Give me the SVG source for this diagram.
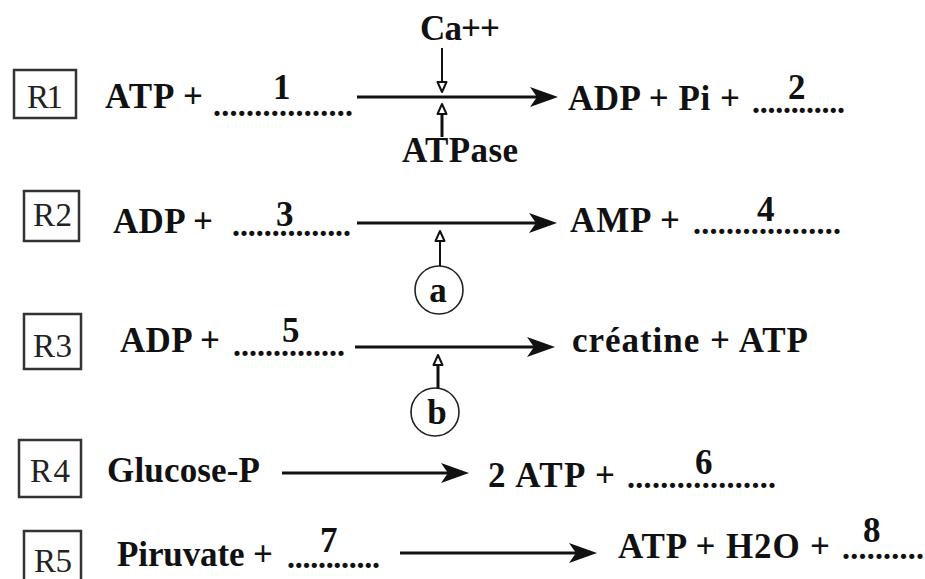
<svg xmlns="http://www.w3.org/2000/svg" width="925" height="579" viewBox="0 0 925 579">
<style>
.eq{font-family:"Liberation Serif","Times New Roman",serif;font-weight:bold;font-size:35px;fill:#111}
.lab{font-family:"Liberation Serif","Times New Roman",serif;font-size:33px;fill:#222}
.dots{font-family:"Liberation Serif","Times New Roman",serif;font-weight:bold;font-size:32px;fill:#111}
.box{fill:none;stroke:#333;stroke-width:2.5}
.main{stroke:#111;stroke-width:3;fill:none}
.mod{stroke:#111;fill:none}
.circ{fill:#fff;stroke:#222;stroke-width:1.6}
</style>
<defs>
<marker id="head" markerUnits="userSpaceOnUse" viewBox="0 0 28 20" markerWidth="28" markerHeight="20" refX="8" refY="10" orient="auto">
<path d="M0,0 L28,10 L0,20 L7,10 Z" fill="#111"/>
</marker>
<marker id="open" markerUnits="userSpaceOnUse" viewBox="-2 -7 15 14" markerWidth="15" markerHeight="14" refX="0" refY="0" orient="auto">
<path d="M0,-4.5 L10,0 L0,4.5 Z" fill="#fff" stroke="#111" stroke-width="2" stroke-linejoin="round"/>
</marker>
</defs>

<g id="R1">
<rect class="box" x="14" y="70" width="62" height="48"/>
<text class="lab" x="27" y="108" textLength="36">R1</text>
<text class="eq" x="105" y="108" textLength="98">ATP +</text>
<text class="dots" x="213" y="116" textLength="140" lengthAdjust="spacing">.................</text>
<text class="eq" x="273" y="99">1</text>
<text class="eq" x="568" y="110" textLength="172">ADP + Pi +</text>
<text class="dots" x="752" y="113" textLength="93" lengthAdjust="spacing">............</text>
<text class="eq" x="788" y="99">2</text>
</g>
<g id="Ca">
<text class="eq" x="420" y="40" textLength="80">Ca++</text>
</g>
<g id="ATPase">
<text class="eq" x="402" y="162" textLength="116">ATPase</text>
</g>

<g id="R2">
<rect class="box" x="24" y="191" width="55" height="50"/>
<text class="lab" x="33" y="226" textLength="39">R2</text>
<text class="eq" x="113" y="233" textLength="100">ADP +</text>
<text class="dots" x="232" y="236" textLength="119" lengthAdjust="spacing">...............</text>
<text class="eq" x="276" y="226">3</text>
<text class="eq" x="570" y="232" textLength="110">AMP +</text>
<text class="dots" x="693" y="234" textLength="148" lengthAdjust="spacing">..................</text>
<text class="eq" x="757" y="221">4</text>
</g>
<g id="a">
<circle class="circ" cx="439" cy="290" r="24"/>
<text class="eq" x="438" y="302" text-anchor="middle">a</text>
</g>

<g id="R3">
<rect class="box" x="24" y="314" width="57" height="55"/>
<text class="lab" x="33" y="357" textLength="39">R3</text>
<text class="eq" x="120" y="352" textLength="100">ADP +</text>
<text class="dots" x="233" y="356" textLength="112" lengthAdjust="spacing">..............</text>
<text class="eq" x="282" y="342">5</text>
<text class="eq" x="572" y="352" textLength="236">créatine + ATP</text>
</g>
<g id="b">
<circle class="circ" cx="435" cy="412" r="24"/>
<text class="eq" x="437" y="424" text-anchor="middle">b</text>
</g>

<g id="R4">
<rect class="box" x="19" y="440" width="62" height="57"/>
<text class="lab" x="30" y="482" textLength="40">R4</text>
<text class="eq" x="107" y="482" textLength="153">Glucose-P</text>
<text class="eq" x="488" y="487" textLength="127">2 ATP +</text>
<text class="dots" x="627" y="488" textLength="149" lengthAdjust="spacing">..................</text>
<text class="eq" x="695" y="474">6</text>
</g>

<g id="R5">
<rect class="box" x="24" y="531" width="57" height="52"/>
<text class="lab" x="34" y="572" textLength="38">R5</text>
<text class="eq" x="117" y="566" textLength="156">Piruvate +</text>
<text class="dots" x="287" y="568" textLength="93" lengthAdjust="spacing">............</text>
<text class="eq" x="320" y="552">7</text>
<text class="eq" x="618" y="558" textLength="212">ATP + H2O +</text>
<text class="dots" x="842" y="559" textLength="82" lengthAdjust="spacing">..........</text>
<text class="eq" x="863" y="542">8</text>
</g>

<g id="connectors">
<line class="main" x1="357" y1="97" x2="538" y2="97" marker-end="url(#head)"/>
<line class="main" x1="357" y1="223" x2="537" y2="223" marker-end="url(#head)"/>
<line class="main" x1="355" y1="347" x2="535" y2="347" marker-end="url(#head)"/>
<line class="main" x1="282" y1="473" x2="449" y2="473" marker-end="url(#head)"/>
<line class="main" x1="400" y1="553" x2="577" y2="553" marker-end="url(#head)"/>
<line class="mod" stroke-width="2" x1="442" y1="48" x2="442" y2="82" marker-end="url(#open)"/>
<line class="mod" stroke-width="3" x1="442" y1="137" x2="442" y2="114" marker-end="url(#open)"/>
<line class="mod" stroke-width="2" x1="440" y1="266" x2="440" y2="241" marker-end="url(#open)"/>
<line class="mod" stroke-width="3" x1="438" y1="388" x2="438" y2="365" marker-end="url(#open)"/>
</g>
</svg>
